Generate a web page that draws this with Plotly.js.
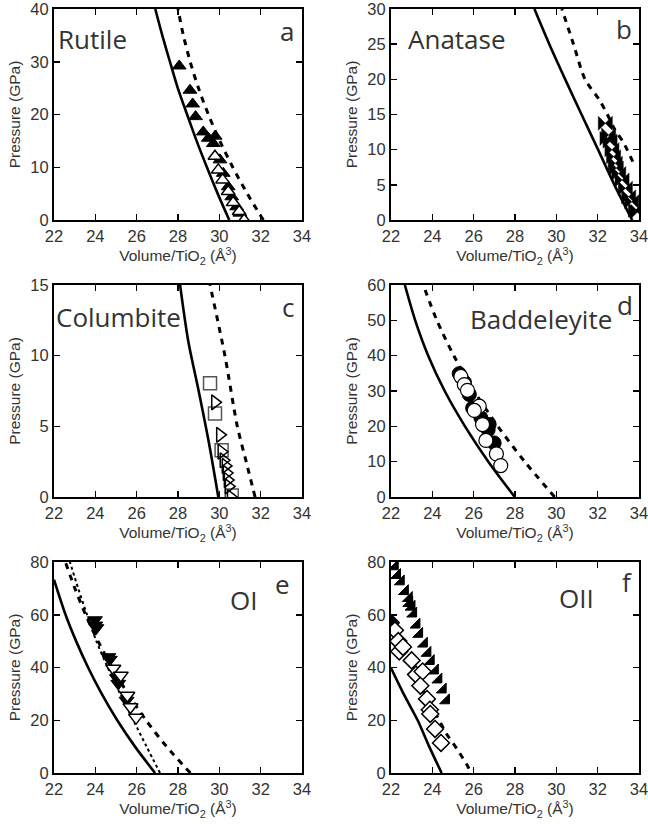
<!DOCTYPE html>
<html>
<head>
<meta charset="utf-8">
<script src="https://cdn.plot.ly/plotly-3.0.1.min.js"></script>
<style>html,body{margin:0;padding:0;background:#fff}#chart{width:648px;height:824px}</style>
</head>
<body>
<div id="chart"></div>
<script>
// ---------- data (Volume/TiO2 in Å^3, Pressure in GPa) ----------
// a: Rutile
const rutSolidV = [30.48, 29.92, 29.40, 28.90, 28.44, 27.99, 27.61, 27.24, 26.9];
const rutSolidP = [0, 5, 10, 15, 20, 25, 30, 35, 40];
const rutDashV = [32.13, 31.35, 30.65, 30.02, 29.47, 28.99, 28.59, 28.26, 28.0];
const rutDashP = [0, 5, 10, 15, 20, 25, 30, 35, 40];
const rutFillV = [28.06, 28.58, 28.71, 28.85, 29.22, 29.47, 29.71, 29.8, 30.03, 30.19, 30.43, 30.6, 30.84, 31.0];
const rutFillP = [29.2, 24.6, 22.0, 19.6, 16.7, 15.5, 14.5, 15.9, 11.4, 8.85, 6.3, 4.4, 2.5, 1.3];
const rutOpenV = [29.79, 29.95, 30.16, 30.43, 30.67, 30.96, 31.2];
const rutOpenP = [12.1, 9.5, 7.6, 5.4, 3.3, 1.6, 0];

// b: Anatase
const anaSolidV = [33.67, 32.81, 32.02, 31.22, 30.43, 29.66, 28.94];
const anaSolidP = [0, 5, 10, 15, 20, 25, 30];
const anaDashV = [33.7, 33.25, 32.8, 32.47, 32.1, 31.39, 30.83, 30.27];
const anaDashP = [8.3, 11, 13, 15, 17, 20, 25, 30];
const anaPtsV = [32.37, 32.45, 32.53, 32.6, 32.69, 32.77, 32.85, 32.9, 33.02, 33.18, 33.34, 33.5, 33.65, 33.83, 33.95];
const anaPtsP = [13.75, 11.6, 12.1, 11.2, 10.0, 9.0, 8.06, 7.4, 6.6, 5.7, 4.5, 3.3, 2.6, 1.4, 1.2];

// c: Columbite
const colSolidV = [29.95, 29.5, 29.0, 28.5, 28.1];
const colSolidP = [0, 3.8, 7.5, 11, 15];
const colDashV = [31.73, 31.3, 30.87, 30.27, 29.55];
const colDashP = [0, 2.5, 5, 10, 15];
const colSqV = [29.55, 29.79, 30.11, 30.6];
const colSqP = [8.04, 5.9, 3.3, 0.1];
const colTriV = [29.79, 30.03, 30.1, 30.2, 30.3, 30.35, 30.4, 30.45, 30.55];
const colTriP = [6.7, 4.4, 3.2, 2.6, 2.2, 1.7, 1.2, 0.75, 0];

// d: Baddeleyite
const badSolidV = [27.99, 26.71, 25.58, 24.6, 23.8, 23.17, 22.67];
const badSolidP = [0, 10, 20, 30, 40, 50, 60];
const badDashV = [29.92, 28.47, 27.17, 26.02, 25.04, 24.22, 23.56];
const badDashP = [0, 10, 20, 30, 40, 50, 60];
const badFillV = [25.3, 25.55, 25.79, 25.95, 26.35, 26.75, 26.7, 26.99];
const badFillP = [34.9, 32.5, 29.0, 25.2, 22.4, 20.5, 19.0, 15.3];
const badOpenV = [25.38, 25.55, 25.7, 26.27, 26.03, 26.43, 26.59, 27.1, 27.31];
const badOpenP = [34.1, 31.8, 30.2, 25.7, 24.5, 20.5, 16.0, 12.2, 8.9];

// e: OI
const oiSolidV = [26.89, 25.92, 25.06, 24.31, 23.65, 23.07, 22.56, 22.0];
const oiSolidP = [0, 10, 20, 30, 40, 50, 60, 73.3];
const oiDashV = [28.6, 27.45, 26.45, 25.58, 24.81, 24.13, 23.53, 23.01, 22.55];
const oiDashP = [0, 10, 20, 30, 40, 50, 60, 70, 80];
const oiDotV = [27.13, 26.48, 25.84, 25.2, 24.6, 24.05, 23.6, 23.17, 22.77];
const oiDotP = [0, 10, 20, 30, 40, 50, 60, 70, 80];
const oiFillV = [23.98, 24.0, 24.05, 24.63, 24.7, 25.05, 25.11, 25.51];
const oiFillP = [58, 56, 55, 44, 43, 36, 33.9, 27.5];
const oiOpenV = [24.87, 25.23, 25.55, 25.7, 25.97];
const oiOpenP = [39.6, 37, 29.4, 25, 21];

// f: OII
const oiiSolidV = [22.0, 22.61, 23.29, 23.85, 24.45];
const oiiSolidP = [39.8, 30, 20, 10, 0];
const oiiDashV = [23.3, 23.75, 24.2, 24.66, 25.22, 25.72, 25.8];
const oiiDashP = [35, 28, 22, 15.2, 8.8, 2.5, 1.2];
const oiiTriV = [22.19, 22.3, 22.48, 22.68, 22.87, 22.89, 23.0, 23.08, 23.24, 23.37, 23.6, 23.77, 23.93, 24.13, 24.3, 24.51, 24.67];
const oiiTriP = [78.3, 75, 72.6, 68.9, 66.3, 64.4, 63, 60.4, 56.2, 52.7, 49, 45.5, 42.4, 38.8, 35.4, 31.6, 27.5];
const oiiDiaFillV = [22.05];
const oiiDiaFillP = [57];
const oiiDiaV = [22.19, 22.35, 22.4, 22.58, 23.0, 23.21, 23.53, 23.42, 23.74, 23.88, 23.9, 24.13, 24.42];
const oiiDiaP = [54.1, 50, 46.1, 47.8, 42.7, 37.3, 38.5, 33.1, 28.1, 24, 22.4, 16.7, 11.4];

const xTicks = [22, 24, 26, 28, 30, 32, 34];

// ---------- helpers ----------
function solid(x, y, ax) {
  return {x: x, y: y, xaxis: 'x' + ax, yaxis: 'y' + ax, mode: 'lines', type: 'scatter',
    line: {color: '#000', width: 2.6, shape: 'spline', smoothing: 0.8}, hoverinfo: 'skip'};
}
function dashed(x, y, ax) {
  return {x: x, y: y, xaxis: 'x' + ax, yaxis: 'y' + ax, mode: 'lines', type: 'scatter',
    line: {color: '#000', width: 3, dash: '6px,6px', shape: 'spline', smoothing: 0.8}, hoverinfo: 'skip'};
}
function dotted(x, y, ax) {
  return {x: x, y: y, xaxis: 'x' + ax, yaxis: 'y' + ax, mode: 'lines', type: 'scatter',
    line: {color: '#000', width: 2, dash: 'dot', shape: 'spline', smoothing: 0.8}, hoverinfo: 'skip'};
}
function pts(x, y, ax, symbol, size, fill, lineColor, lw) {
  return {x: x, y: y, xaxis: 'x' + ax, yaxis: 'y' + ax, mode: 'markers', type: 'scatter',
    marker: {symbol: symbol, size: size, color: fill, line: {color: lineColor, width: lw}}};
}

const traces = [
  solid(rutSolidV, rutSolidP, ''), dashed(rutDashV, rutDashP, ''),
  pts(rutFillV, rutFillP, '', 'triangle-up', 12, '#000', '#000', 1),
  pts(rutOpenV, rutOpenP, '', 'triangle-up', 12, '#fff', '#000', 1.5),

  solid(anaSolidV, anaSolidP, '2'), dashed(anaDashV, anaDashP, '2'),
  pts(anaPtsV, anaPtsP, '2', 'bowtie', 14, '#000', '#000', 0.5),

  solid(colSolidV, colSolidP, '3'), dashed(colDashV, colDashP, '3'),
  pts(colSqV, colSqP, '3', 'square', 13, 'rgba(255,255,255,0)', '#555', 1.5),
  pts(colTriV, colTriP, '3', 'triangle-right', 13, 'rgba(255,255,255,0)', '#000', 1.5),

  solid(badSolidV, badSolidP, '4'), dashed(badDashV, badDashP, '4'),
  pts(badFillV, badFillP, '4', 'circle', 14, '#000', '#000', 1),
  pts(badOpenV, badOpenP, '4', 'circle', 14, '#fff', '#000', 1.2),

  solid(oiSolidV, oiSolidP, '5'), dashed(oiDashV, oiDashP, '5'), dotted(oiDotV, oiDotP, '5'),
  pts(oiFillV, oiFillP, '5', 'triangle-down', 13, '#000', '#000', 1),
  pts(oiOpenV, oiOpenP, '5', 'triangle-down', 13, '#fff', '#000', 1.5),

  solid(oiiSolidV, oiiSolidP, '6'), dashed(oiiDashV, oiiDashP, '6'),
  pts(oiiTriV, oiiTriP, '6', 'triangle-se', 11, '#000', '#000', 1),
  pts(oiiDiaFillV, oiiDiaFillP, '6', 'diamond', 12, '#000', '#000', 1),
  pts(oiiDiaV, oiiDiaP, '6', 'diamond', 13, '#fff', '#000', 1.5)
];

const tickFont = {family: 'Liberation Sans, Arial, sans-serif', size: 16.5, color: '#333'};
const titleFont = {family: 'Liberation Sans, Arial, sans-serif', size: 15.5, color: '#333'};

function xax(domain, anchor) {
  return {domain: domain, anchor: anchor, range: [22, 34], tickvals: xTicks, ticktext: xTicks.map(String),
    ticks: 'inside', ticklen: 6, tickwidth: 1.5, tickcolor: '#000', mirror: 'ticks',
    showline: true, linewidth: 2, linecolor: '#000', showgrid: false, zeroline: false,
    tickfont: tickFont, fixedrange: true, ticklabeloverflow: 'allow',
    title: {text: 'Volume/TiO<sub>2</sub> (Å<sup>3</sup>)', font: titleFont, standoff: 4}};
}
function yax(domain, anchor, maxP, dt) {
  return {domain: domain, anchor: anchor, range: [0, maxP], dtick: dt, tick0: 0,
    ticks: 'inside', ticklen: 6, tickwidth: 1.5, tickcolor: '#000', mirror: 'ticks',
    showline: true, linewidth: 2, linecolor: '#000', showgrid: false, zeroline: false,
    tickfont: tickFont, fixedrange: true, ticklabeloverflow: 'allow',
    title: {text: 'Pressure (GPa)', font: titleFont, standoff: 6}};
}

const colL = [54 / 648, 302 / 648];
const colR = [391 / 648, 639 / 648];
const row1 = [1 - 220 / 824, 1 - 9 / 824];
const row2 = [1 - 497 / 824, 1 - 285 / 824];
const row3 = [1 - 773 / 824, 1 - 562 / 824];

const labFont = {family: 'Open Sans, DejaVu Sans, sans-serif', size: 26, color: '#333'};
function lab(txt, ax, x, y) {
  return {text: txt, xref: 'x' + ax + ' domain', yref: 'y' + ax + ' domain', x: x, y: y,
    xanchor: 'center', yanchor: 'middle', showarrow: false, font: labFont};
}

const layout = {
  width: 648, height: 824, showlegend: false,
  margin: {l: 0, r: 0, t: 0, b: 0},
  paper_bgcolor: '#fff', plot_bgcolor: '#fff',
  xaxis: xax(colL, 'y'), yaxis: yax(row1, 'x', 40, 10),
  xaxis2: xax(colR, 'y2'), yaxis2: yax(row1, 'x2', 30, 5),
  xaxis3: xax(colL, 'y3'), yaxis3: yax(row2, 'x3', 15, 5),
  xaxis4: xax(colR, 'y4'), yaxis4: yax(row2, 'x4', 60, 10),
  xaxis5: xax(colL, 'y5'), yaxis5: yax(row3, 'x5', 80, 20),
  xaxis6: xax(colR, 'y6'), yaxis6: yax(row3, 'x6', 80, 20),
  annotations: [
    lab('Rutile', '', 0.157, 0.86), lab('a', '', 0.94, 0.895),
    lab('Anatase', '2', 0.265, 0.86), lab('b', '2', 0.94, 0.905),
    lab('Columbite', '3', 0.26, 0.85), lab('c', '3', 0.944, 0.895),
    lab('Baddeleyite', '4', 0.605, 0.84), lab('d', '4', 0.944, 0.905),
    lab('OI', '5', 0.766, 0.82), lab('e', '5', 0.923, 0.895),
    lab('OII', '6', 0.746, 0.83), lab('f', '6', 0.952, 0.905)
  ]
};

Plotly.newPlot('chart', traces, layout, {staticPlot: true});
</script>
</body>
</html>
